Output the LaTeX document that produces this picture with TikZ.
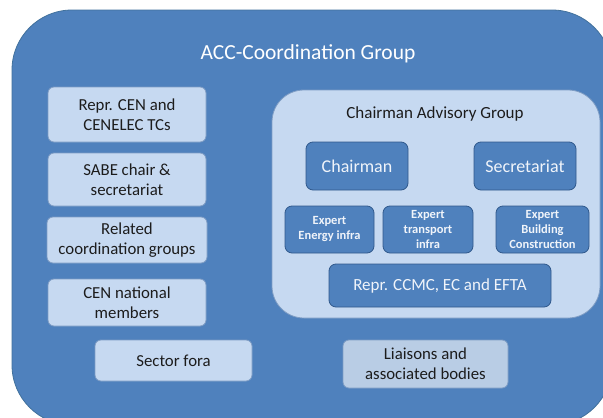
\documentclass[tikz,border=0pt]{standalone}
\usepackage{fontspec}
\setmainfont{Carlito}
\definecolor{accblue}{HTML}{4F81BD}
\definecolor{accedge}{HTML}{41719C}
\definecolor{lightfill}{HTML}{C6D9F1}
\definecolor{lightedge}{HTML}{7F9DC4}
\definecolor{greyfill}{HTML}{B9CDE5}
\definecolor{darkedge}{HTML}{30598C}
\definecolor{darktext}{HTML}{1C1C1C}
\definecolor{lighttext}{HTML}{F0F4FA}
\tikzset{
  lightbox/.style={draw=lightedge, line width=0.8pt, fill=lightfill, rounded corners=6pt,
    align=center, text=darktext, inner sep=0pt,
    font=\fontsize{16.8}{20}\selectfont},
  darkbox/.style={draw=darkedge, line width=0.8pt, fill=accblue, rounded corners=7pt,
    align=center, text=lighttext, inner sep=0pt},
  expertbox/.style={darkbox, font=\fontsize{12.5}{15}\selectfont\bfseries},
}
\begin{document}
\begin{tikzpicture}[x=1pt,y=-1pt]
\useasboundingbox (0,0) rectangle (603,418);
\clip (0,0) rectangle (603,418);
\fill[white] (0,0) rectangle (603,418);

% outer group
\node[draw=accedge, line width=0.8pt, fill=accblue, rounded corners=60pt,
  minimum width=600pt, minimum height=415pt, inner sep=0pt] (acc) at (312,217.5) {};
\node[text=white, font=\fontsize{21.5}{25}\selectfont] (acctitle) at (308,54) {ACC-Coordination Group};

% left column
\node[lightbox, minimum width=158pt, minimum height=55pt] (repr) at (127,114.5) {Repr. CEN and\\CENELEC TCs};
\node[lightbox, minimum width=158pt, minimum height=53pt] (sabe) at (127,179.5) {SABE chair \&\\secretariat};
\node[lightbox, minimum width=160pt, minimum height=46pt] (related) at (127,240) {Related\\coordination groups};
\node[lightbox, minimum width=158pt, minimum height=47pt] (national) at (127,302.5) {CEN national\\members};
\node[lightbox, minimum width=157pt, minimum height=41pt] (sector) at (173.5,360.5) {Sector fora};
\node[lightbox, fill=greyfill, minimum width=165pt, minimum height=48pt] (liaisons) at (425.5,364) {Liaisons and\\associated bodies};

% chairman advisory group
\node[draw=lightedge, line width=0.8pt, fill=lightfill, rounded corners=32pt,
  minimum width=328pt, minimum height=228pt, inner sep=0pt] (cag) at (436,204) {};
\node[text=darktext, font=\fontsize{17}{20}\selectfont] (cagtitle) at (435,114) {Chairman Advisory Group};

\node[darkbox, font=\fontsize{18}{21}\selectfont, minimum width=102pt, minimum height=48pt] (chair) at (357,166) {Chairman};
\node[darkbox, font=\fontsize{18}{21}\selectfont, minimum width=102pt, minimum height=48pt] (sec) at (525,166) {Secretariat};
\node[expertbox, minimum width=89pt, minimum height=47pt] (energy) at (329.5,229.5) {Expert\\Energy infra};
\node[expertbox, minimum width=90pt, minimum height=47pt] (transport) at (428,229.5) {Expert\\transport\\infra};
\node[expertbox, minimum width=93pt, minimum height=47pt] (building) at (542.5,229.5) {Expert\\Building\\Construction};
\node[darkbox, font=\fontsize{17}{20}\selectfont, minimum width=222pt, minimum height=43pt] (ccmc) at (440,285.5) {Repr. CCMC, EC and EFTA};
\end{tikzpicture}
\end{document}
